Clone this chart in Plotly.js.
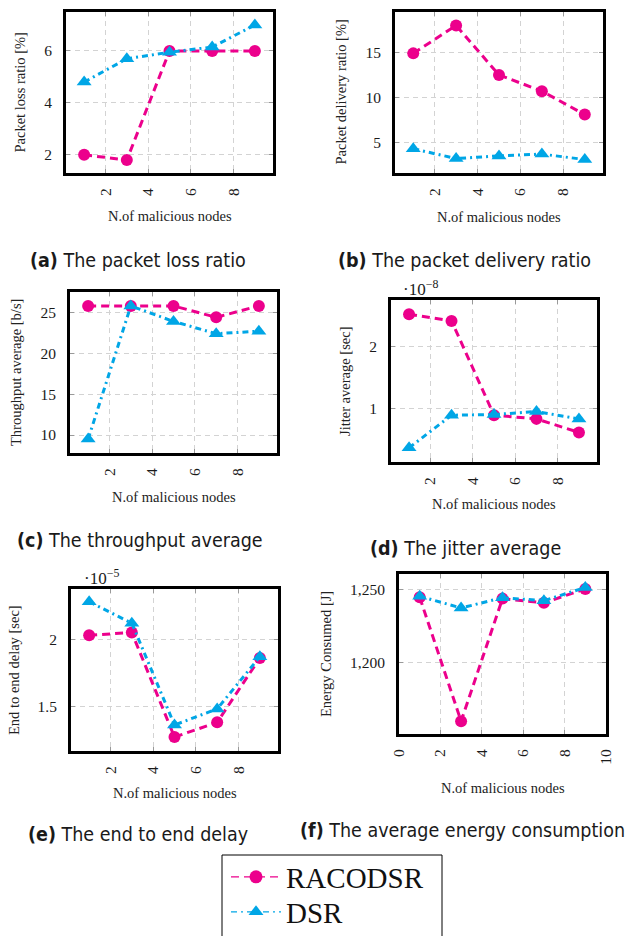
<!DOCTYPE html>
<html><head><meta charset="utf-8">
<script src="https://cdn.plot.ly/plotly-3.0.1.min.js"></script>
<style>html,body{margin:0;padding:0;background:#fff}#chart{width:627px;height:936px}</style>
</head><body><div id="chart"></div>
<script>
// ---- data ----
const nodes = [1, 3, 5, 7, 9];
const seriesNames = ["RACODSR", "DSR"];

const lossRACODSR = [2.0, 1.8, 6.0, 6.0, 6.0];
const lossDSR     = [4.8, 5.7, 5.95, 6.15, 7.0];

const pdrRACODSR  = [14.9, 18.0, 12.5, 10.7, 8.1];
const pdrDSR      = [4.3, 3.2, 3.5, 3.7, 3.1];

const thrRACODSR  = [25.8, 25.8, 25.8, 24.4, 25.8];
const thrDSR      = [9.5, 25.8, 23.9, 22.4, 22.7];

const jitRACODSR  = [2.53e-8, 2.42e-8, 0.89e-8, 0.83e-8, 0.61e-8];
const jitDSR      = [0.36e-8, 0.89e-8, 0.90e-8, 0.95e-8, 0.83e-8];

const e2eRACODSR  = [2.03e-5, 2.05e-5, 1.27e-5, 1.38e-5, 1.86e-5];
const e2eDSR      = [2.28e-5, 2.12e-5, 1.36e-5, 1.48e-5, 1.87e-5];

const engRACODSR  = [1244.8, 1160.2, 1243.9, 1241.0, 1250.5];
const engDSR      = [1245.5, 1237.5, 1244.5, 1242.5, 1251.5];

const xTickVals   = [2, 4, 6, 8];
const xTickValsF  = [0, 2, 4, 6, 8, 10];
const yTicksA = [2, 4, 6];
const yTicksB = [5, 10, 15];
const yTicksC = [10, 15, 20, 25];
const yTicksD = [1e-8, 2e-8];
const yTickTextD = ["1", "2"];
const yTicksE = [1.5e-5, 2e-5];
const yTickTextE = ["1.5", "2"];
const yTicksF = [1200, 1250];

const xTitle = "N.of malicious nodes";
const yTitles = ["Packet loss ratio [%]", "Packet delivery ratio [%]", "Throughput average [b/s]",
                 "Jitter average [sec]", "End to end delay [sec]", "Energy Consumed [J]"];
const captions = ["The packet loss ratio", "The packet delivery ratio", "The throughput average",
                  "The jitter average", "The end to end delay", "The average energy consumption"];
const captionTags = ["(a)", "(b)", "(c)", "(d)", "(e)", "(f)"];

// ---- styling / layout ----
const W = 627, H = 936;
const SERIF = "Liberation Serif, Times New Roman, serif";
const SANS = "Liberation Sans Narrow, DejaVu Sans Condensed, sans-serif";
const MAG = "#EC008C", CYA = "#00A6E6";
const DASH_R = "8px,5px", DASH_D = "6px,4px,2px,4px";

const panels = [
  {r: lossRACODSR, d: lossDSR, box: [66, 273, 12, 173], xr: [0.15, 9.85], yr: [1.3, 7.5], yt: yTicksA, cap: [138, 260], xty: 216, yty: 20},
  {r: pdrRACODSR,  d: pdrDSR,  box: [395, 603, 12, 173], xr: [0.15, 9.85], yr: [1.6, 19.5], yt: yTicksB, cap: [464, 260], xty: 217, yty: 341},
  {r: thrRACODSR,  d: thrDSR,  box: [70, 277, 292, 453], xr: [0.15, 9.85], yr: [7.8, 27.5], yt: yTicksC, cap: [140, 540], xty: 497, yty: 16.5},
  {r: jitRACODSR,  d: jitDSR,  box: [391, 597, 300, 462], xr: [0.15, 9.85], yr: [0.13e-8, 2.76e-8], yt: yTicksD, ytt: yTickTextD, cap: [465, 548], xty: 504, yty: 345, exp: "·10<sup>−8</sup>", expPos: [401, 288]},
  {r: e2eRACODSR,  d: e2eDSR,  box: [71, 278, 589, 751], xr: [0.15, 9.85], yr: [1.166e-5, 2.375e-5], yt: yTicksE, ytt: yTickTextE, cap: [138, 834], xty: 793, yty: 14, exp: "·10<sup>−5</sup>", expPos: [82, 577]},
  {r: engRACODSR,  d: engDSR,  box: [399, 606, 574, 734], xr: [0, 10], yr: [1151.5, 1260.7], yt: yTicksF, fmt: ",", xt: xTickValsF, cap: [462, 830], xty: 788, yty: 326}
];

const data = [];
const legendCommon = {
  xanchor: "left", yanchor: "middle", bgcolor: "rgba(0,0,0,0)", borderwidth: 0,
  font: {family: SERIF, size: 29, color: "#111"}, itemwidth: 50, tracegroupgap: 0
};
const layout = {
  width: W, height: H,
  margin: {l: 0, r: 0, t: 0, b: 0, autoexpand: false},
  paper_bgcolor: "#fff", plot_bgcolor: "#fff",
  showlegend: true,
  legend: Object.assign({x: 226 / W, y: 1 - 877 / H}, legendCommon),
  legend2: Object.assign({x: 226 / W, y: 1 - 912 / H}, legendCommon),
  shapes: [{type: "rect", xref: "paper", yref: "paper",
            x0: 222 / W, x1: 442 / W, y0: 1 - 960 / H, y1: 1 - 855 / H,
            line: {color: "#000", width: 1}, fillcolor: "rgba(0,0,0,0)"}],
  annotations: []
};

function ann(o) { layout.annotations.push(Object.assign({xref: "paper", yref: "paper", showarrow: false}, o)); }

panels.forEach((p, i) => {
  const k = i === 0 ? "" : String(i + 1);
  const xa = "x" + k, ya = "y" + k;
  const [x0, x1, y0, y1] = p.box;
  data.push({
    x: nodes, y: p.r, xaxis: xa, yaxis: ya, name: seriesNames[0],
    showlegend: false, mode: "lines+markers", cliponaxis: false,
    line: {color: MAG, width: 3, dash: DASH_R},
    marker: {symbol: "circle", size: 12, color: MAG}
  });
  data.push({
    x: nodes, y: p.d, xaxis: xa, yaxis: ya, name: seriesNames[1],
    showlegend: false, mode: "lines+markers", cliponaxis: false,
    line: {color: CYA, width: 3, dash: DASH_D},
    marker: {symbol: "triangle-up", size: 13, color: CYA}
  });
  const common = {
    ticks: "inside", ticklen: 4, tickwidth: 1, tickcolor: "#999",
    showline: true, linecolor: "#000", linewidth: 3, mirror: "allticks",
    showgrid: true, gridcolor: "#d3d3d3", gridwidth: 1, griddash: "5px,4px",
    zeroline: false, fixedrange: true,
    tickfont: {family: SERIF, size: 15.5, color: "#1a1a1a"}
  };
  layout["xaxis" + k] = Object.assign({}, common, {
    domain: [x0 / W, x1 / W], anchor: ya, range: p.xr,
    tickmode: "array", tickvals: p.xt || xTickVals, tickangle: -90, ticklabelstandoff: 6
  });
  const yax = Object.assign({}, common, {
    domain: [1 - y1 / H, 1 - y0 / H], anchor: xa, range: p.yr,
    tickmode: "array", tickvals: p.yt, ticklabelstandoff: 8
  });
  if (p.ytt) yax.ticktext = p.ytt;
  if (p.fmt) yax.tickformat = p.fmt;
  layout["yaxis" + k] = yax;

  ann({x: (x0 + x1) / 2 / W, y: 1 - p.xty / H, text: xTitle, xanchor: "center", yanchor: "middle",
       font: {family: SERIF, size: 14.5, color: "#222"}});
  ann({x: p.yty / W, y: 1 - (y0 + y1) / 2 / H, text: yTitles[i], textangle: -90,
       xanchor: "center", yanchor: "middle", font: {family: SERIF, size: 14.5, color: "#222"}});
  ann({x: p.cap[0] / W, y: 1 - p.cap[1] / H, text: "<b>" + captionTags[i] + "</b> " + captions[i],
       xanchor: "center", yanchor: "middle", font: {family: SANS, size: 19.5, color: "#1a1a1a"}});
  if (p.exp) {
    ann({x: p.expPos[0] / W, y: 1 - p.expPos[1] / H, text: p.exp, xanchor: "left", yanchor: "middle",
         font: {family: SERIF, size: 17, color: "#1a1a1a"}});
  }
});

// legend-only entries (thin sample lines like the reference key)
data.push({x: [null], y: [null], name: seriesNames[0], legend: "legend", mode: "lines+markers",
           line: {color: MAG, width: 1.3, dash: DASH_R}, marker: {symbol: "circle", size: 13, color: MAG}});
data.push({x: [null], y: [null], name: seriesNames[1], legend: "legend2", mode: "lines+markers",
           line: {color: CYA, width: 1.3, dash: DASH_D}, marker: {symbol: "triangle-up", size: 13, color: CYA}});

Plotly.newPlot("chart", data, layout, {staticPlot: true, displayModeBar: false});
</script>
</body></html>
